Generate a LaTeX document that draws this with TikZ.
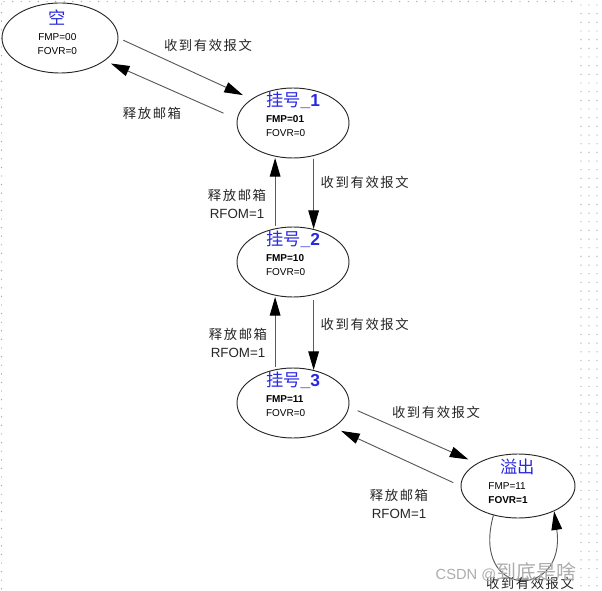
\documentclass[tikz,border=0pt]{standalone}
\usepackage{fontspec}
\setmainfont{Liberation Sans}
\newfontfamily\cjk[LetterSpace=12]{Noto Sans CJK SC}
\newfontfamily\cjkt{Noto Sans CJK SC}
\usepackage{tikz}
\usetikzlibrary{arrows.meta,shapes.geometric}
\definecolor{titleblue}{RGB}{40,40,225}
\definecolor{dotgray}{RGB}{150,175,175}
\newcommand{\statetitle}[1]{{\fontsize{13}{15}\selectfont\color{titleblue}#1}}
% #1 column, #2 raise, #3 title, #4 and #5 register lines
\newcommand{\statetext}[5][l]{\raisebox{#2}[0pt][0pt]{%
  \begin{tabular}{@{}#1@{}}#3\\[1pt]#4\\#5\end{tabular}}}

\begin{document}
\begin{tikzpicture}[
    x=0.75pt, y=-0.75pt,
    state/.style={ellipse, draw=black!85, line width=0.7pt, inner sep=0pt,
                  minimum width=84pt, minimum height=52.5pt,
                  font=\fontsize{7.5}{10.5}\selectfont},
    arr/.style={-{Triangle[length=14pt, width=8pt, color=black]}, line width=0.7pt, black!65},
    lbl/.style={font=\fontsize{10}{14}\selectfont, text=black!85, align=center},
    dot/.style={fill=dotgray}
]
\useasboundingbox (0,0) rectangle (602,591);

% screen frame dots
\foreach \y in {4,12.6,...,591} \fill[dot] (1.5,\y) circle (0.7);
\foreach \x in {4,12.6,...,578} \fill[dot] (\x,1.5) circle (0.7);
\foreach \x in {581,589,597}
  \foreach \y in {5,13.67,...,591} \fill[dot] (\x,\y) circle (0.7);

\node[state, minimum width=87pt] (empty) at (60,38)
  {\statetext[c]{1pt}{\statetitle{\cjkt 空}}{FMP=00}{FOVR=0}\hspace*{4pt}};
\node[state] (g1) at (293,123)
  {\statetext{3.3pt}{\statetitle{{\cjkt 挂号}\textbf{\_1}}}{\textbf{FMP=01}}{FOVR=0}};
\node[state] (g2) at (293,262)
  {\statetext{3.3pt}{\statetitle{{\cjkt 挂号}\textbf{\_2}}}{\textbf{FMP=10}}{FOVR=0}};
\node[state] (g3) at (293,403)
  {\statetext{3.3pt}{\statetitle{{\cjkt 挂号}\textbf{\_3}}}{\textbf{FMP=11}}{FOVR=0}};
\node[state, minimum width=85.5pt, minimum height=48pt] (ov) at (518,486)
  {\statetext{0.3pt}{\statetitle{\hspace*{9pt}\cjkt 溢出}}{FMP=11}{\textbf{FOVR=1}\hspace*{15pt}}};

\draw[arr, shorten <=4pt, shorten >=7pt] (empty.east) -- (g1.150);
\draw[arr, shorten <=11pt, shorten >=5pt] (g1.176) -- (empty.-27);
\draw[arr, shorten <=2pt] (g1.-58) -- (g2.58);
\draw[arr, shorten <=2pt, shorten >=1pt] (g2.118) -- (g1.-118);
\draw[arr, shorten <=4pt] (g2.-58) -- (g3.58);
\draw[arr, shorten <=2pt, shorten >=1pt] (g3.118) -- (g2.-118);
\draw[arr, shorten <=7pt, shorten >=7pt] (g3.-4) -- (ov.151);
\draw[arr, shorten <=6pt, shorten >=6pt] (ov.180) -- (g3.-31);
\draw[arr] (ov.-130) .. controls (470,600) and (567,600) .. (ov.-35);

\node[lbl] (l1) at (208,45) {\cjk 收到有效报文};
\node[lbl] (l2) at (152,113) {\cjk 释放邮箱};
\node[lbl, anchor=west] (l3) at (316,182) {\cjk 收到有效报文};
\node[lbl] (l4) at (237,204) {{\cjk 释放邮箱}\\RFOM=1};
\node[lbl, anchor=west] (l5) at (316,324) {\cjk 收到有效报文};
\node[lbl] (l6) at (238,343) {{\cjk 释放邮箱}\\RFOM=1};
\node[lbl] (l7) at (436,412) {\cjk 收到有效报文};
\node[lbl] (l8) at (399,504) {{\cjk 释放邮箱}\\RFOM=1};
\node[lbl] (l9) at (530,583) {\cjk 收到有效报文};

% watermark
\node[anchor=west, text=gray!65, font=\fontsize{11}{11}\selectfont] (wm) at (431,572)
  {CSDN @{\cjkt\fontsize{15}{15}\selectfont 到底是啥}};
\end{tikzpicture}
\end{document}
